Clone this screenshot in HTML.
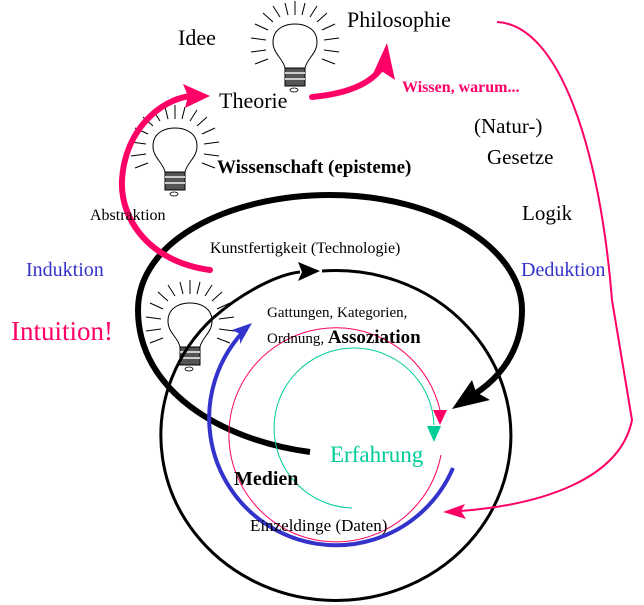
<!DOCTYPE html>
<html><head><meta charset="utf-8"><style>
html,body{margin:0;padding:0;background:#fff;}
svg{display:block;font-family:"Liberation Serif","DejaVu Serif",serif;}
text{font-family:"Liberation Serif","DejaVu Serif",serif;}
</style></head><body>
<svg width="644" height="605" viewBox="0 0 644 605" xmlns="http://www.w3.org/2000/svg" font-family="Liberation Serif, DejaVu Serif, serif">
<defs>
<g id="bulb">
<g stroke="#000" stroke-width="1" fill="none">
<line x1="-27" y1="-16" x2="-40" y2="-22"/><line x1="-29" y1="-6" x2="-44" y2="-8"/><line x1="-29" y1="4" x2="-44" y2="6"/><line x1="-27" y1="13" x2="-40" y2="18"/>
<line x1="-22" y1="-24" x2="-32" y2="-33"/><line x1="-15" y1="-29" x2="-22" y2="-40"/><line x1="-7" y1="-31" x2="-10" y2="-43"/><line x1="0" y1="-31" x2="0" y2="-45"/>
<line x1="7" y1="-31" x2="10" y2="-43"/><line x1="15" y1="-29" x2="22" y2="-40"/><line x1="22" y1="-24" x2="32" y2="-33"/>
<line x1="27" y1="-16" x2="40" y2="-22"/><line x1="29" y1="-6" x2="44" y2="-8"/><line x1="29" y1="4" x2="44" y2="6"/><line x1="27" y1="13" x2="40" y2="18"/>
<path d="M-10,22 C-12,12 -22,8 -22,-4 C-22,-16 -12,-22 0,-22 C12,-22 22,-16 22,-4 C22,8 12,12 10,22" fill="#fff"/>
</g>
<rect x="-10" y="22" width="20" height="18" fill="#555" stroke="#000"/>
<line x1="-10" y1="27" x2="10" y2="27" stroke="#ccc" stroke-width="2"/>
<line x1="-10" y1="33" x2="10" y2="33" stroke="#ccc" stroke-width="2"/>
<ellipse cx="-1" cy="44" rx="4" ry="2" fill="none" stroke="#000" stroke-width="0.8"/>
</g>
</defs>

<use href="#bulb" x="295" y="46"/>
<use href="#bulb" x="175" y="150"/>
<use href="#bulb" x="190" y="325"/>

<path d="M322,271 A175,165 0 1 1 213,318" fill="none" stroke="#000" stroke-width="3"/>
<path d="M213,318 C245,290 280,274 300,272" fill="none" stroke="#000" stroke-width="3"/>
<polygon points="320,271 298,262 302,272 298,281" fill="#000"/>

<path d="M310,452 C220,440 138,390 138,310 C138,240 230,195 330,195 C440,195 522,250 522,310 C522,350 500,380 468,398" fill="none" stroke="#000" stroke-width="6"/>
<polygon points="452,409 472,380 476,392 490,400" fill="#000"/>

<path d="M453,468 A127,127 0 1 1 242,333" fill="none" stroke="#3333cc" stroke-width="4"/>
<polygon points="252,323 232,330 240,334 240,344" fill="#3333cc"/>

<path d="M441,455 A107,107 0 1 1 440,410" fill="none" stroke="#ff0066" stroke-width="1"/>
<polygon points="440,425 433,410 447,410" fill="#ff0066"/>

<path d="M352,508 A80,80 0 1 1 434,425" fill="none" stroke="#00cc99" stroke-width="1"/>
<polygon points="434,442 427,426 441,426" fill="#00cc99"/>

<path d="M210,270 C150,262 120,220 122,180 C125,130 160,100 190,96" fill="none" stroke="#ff0066" stroke-width="6" stroke-linecap="round"/>
<polygon points="210,96 183,84 188,96 185,108" fill="#ff0066"/>
<path d="M312,97 C345,94 368,85 380,70" fill="none" stroke="#ff0066" stroke-width="6" stroke-linecap="round"/>
<polygon points="387,43 372,76 383,72 395,80" fill="#ff0066"/>

<path d="M497,22 C560,25 600,150 612,300 L632,420 C620,480 540,505 460,511" fill="none" stroke="#ff0066" stroke-width="2"/>
<polygon points="443,512 465,504 461,511 466,519" fill="#ff0066"/>

<text x="178" y="45" font-size="22">Idee</text>
<text x="347" y="27" font-size="22">Philosophie</text>
<text x="219" y="108" font-size="22">Theorie</text>
<text x="402" y="92" font-size="16" font-weight="bold" fill="#ff0066">Wissen, warum...</text>
<text x="474" y="133" font-size="21">(Natur-)</text>
<text x="487" y="164" font-size="21">Gesetze</text>
<text x="217" y="173" font-size="19" font-weight="bold">Wissenschaft (episteme)</text>
<text x="90" y="220" font-size="16">Abstraktion</text>
<text x="522" y="220" font-size="21">Logik</text>
<text x="210" y="253" font-size="16">Kunstfertigkeit (Technologie)</text>
<text x="26" y="276" font-size="20" fill="#3333cc">Induktion</text>
<text x="521" y="276" font-size="20" fill="#3333cc">Deduktion</text>
<text x="11" y="340" font-size="27" fill="#ff0066">Intuition!</text>
<text x="267" y="317" font-size="15">Gattungen, Kategorien,</text>
<text x="267" y="343" font-size="15">Ordnung, <tspan font-size="19" font-weight="bold">Assoziation</tspan></text>
<text x="330" y="462" font-size="23" fill="#00cc99">Erfahrung</text>
<text x="234" y="485" font-size="20" font-weight="bold">Medien</text>
<text x="250" y="531" font-size="17">Einzeldinge (Daten)</text>
</svg>
</body></html>
